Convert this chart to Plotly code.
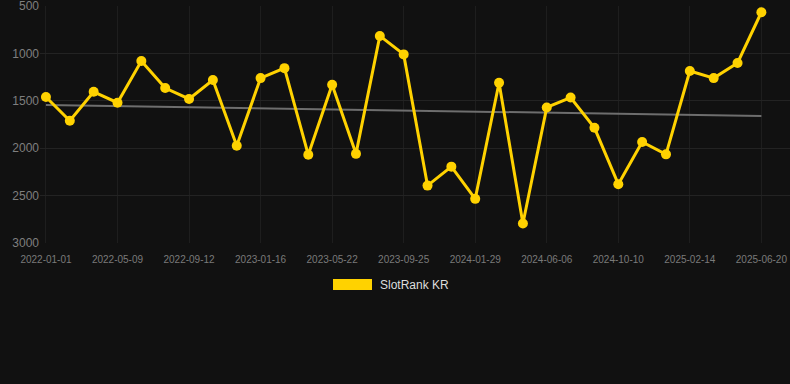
import plotly.graph_objects as go

dates = [
    "2022-01-01", "2022-02-12", "2022-03-26", "2022-05-09", "2022-06-20", "2022-08-01",
    "2022-09-12", "2022-10-24", "2022-12-05", "2023-01-16", "2023-02-27", "2023-04-10",
    "2023-05-22", "2023-07-03", "2023-08-14", "2023-09-25", "2023-11-06", "2023-12-18",
    "2024-01-29", "2024-03-11", "2024-04-24", "2024-06-06", "2024-07-18", "2024-08-29",
    "2024-10-10", "2024-11-21", "2025-01-03", "2025-02-14", "2025-03-28", "2025-05-09",
    "2025-06-20",
]
rank = [
    1460, 1710, 1405, 1520, 1080, 1365, 1480, 1280, 1975, 1260, 1155, 2070,
    1330, 2060, 815, 1010, 2395, 2195, 2535, 1310, 2795, 1570, 1465, 1785,
    2380, 1935, 2065, 1185, 1260, 1100, 565,
]
trend_x = [dates[0], dates[-1]]
trend_y = [1545, 1660]
tick_labels = dates[::3]
y_ticks = [500, 1000, 1500, 2000, 2500, 3000]
series_name = "SlotRank KR"

GOLD = "#FFD200"
fig = go.Figure()
fig.add_trace(go.Scatter(
    x=trend_x, y=trend_y, mode="lines",
    line=dict(color="#6e6e6e", width=2), showlegend=False, hoverinfo="skip",
))
fig.add_trace(go.Scatter(
    x=dates, y=rank, mode="lines+markers", name=series_name,
    line=dict(color=GOLD, width=3),
    marker=dict(color=GOLD, size=10),
    showlegend=False, cliponaxis=False,
))

fig.update_layout(
    width=790, height=384,
    margin=dict(l=40, r=0, t=6, b=141),
    paper_bgcolor="#111111", plot_bgcolor="#111111",
    font=dict(family="Liberation Sans, Arial, sans-serif", color="#808080"),
    xaxis=dict(
        type="category", categoryorder="array", categoryarray=dates,
        range=[-0.25, 31.2],
        tickmode="array", tickvals=tick_labels, ticktext=tick_labels,
        tickfont=dict(size=10, color="#7a7a7a"),
        ticklabelstandoff=9,
        showgrid=True, gridcolor="#1e1e1e", gridwidth=1,
        zeroline=False, showline=False, ticks="",
    ),
    yaxis=dict(
        range=[3001, 499], tickvals=y_ticks,
        tickfont=dict(size=12, color="#7f7f7f"),
        ticklabeloverflow="allow",
        showgrid=True, gridcolor="#232323", gridwidth=1,
        zeroline=False, showline=False, ticks="",
    ),
    showlegend=False,
)

# manual legend
fig.add_shape(type="rect", xref="paper", yref="paper",
              x0=(333 - 40) / 750, x1=(372 - 40) / 750,
              y0=(243 - 290) / 237, y1=(243 - 279) / 237,
              fillcolor=GOLD, line=dict(width=0))
fig.add_annotation(xref="paper", yref="paper", x=(378 - 40) / 750, y=(243 - 285) / 237,
                   text=series_name, showarrow=False, xanchor="left", yanchor="middle",
                   font=dict(size=12, color="#dddddd"))

fig.write_html("out.html", config={"displayModeBar": False})

# remove the browser's default page margin so the figure sits at (0, 0)
with open("out.html", encoding="utf-8") as f:
    html = f.read()
html = html.replace("<head>", "<head><style>html,body{margin:0;padding:0;background:#111111;}</style>", 1)
with open("out.html", "w", encoding="utf-8") as f:
    f.write(html)
